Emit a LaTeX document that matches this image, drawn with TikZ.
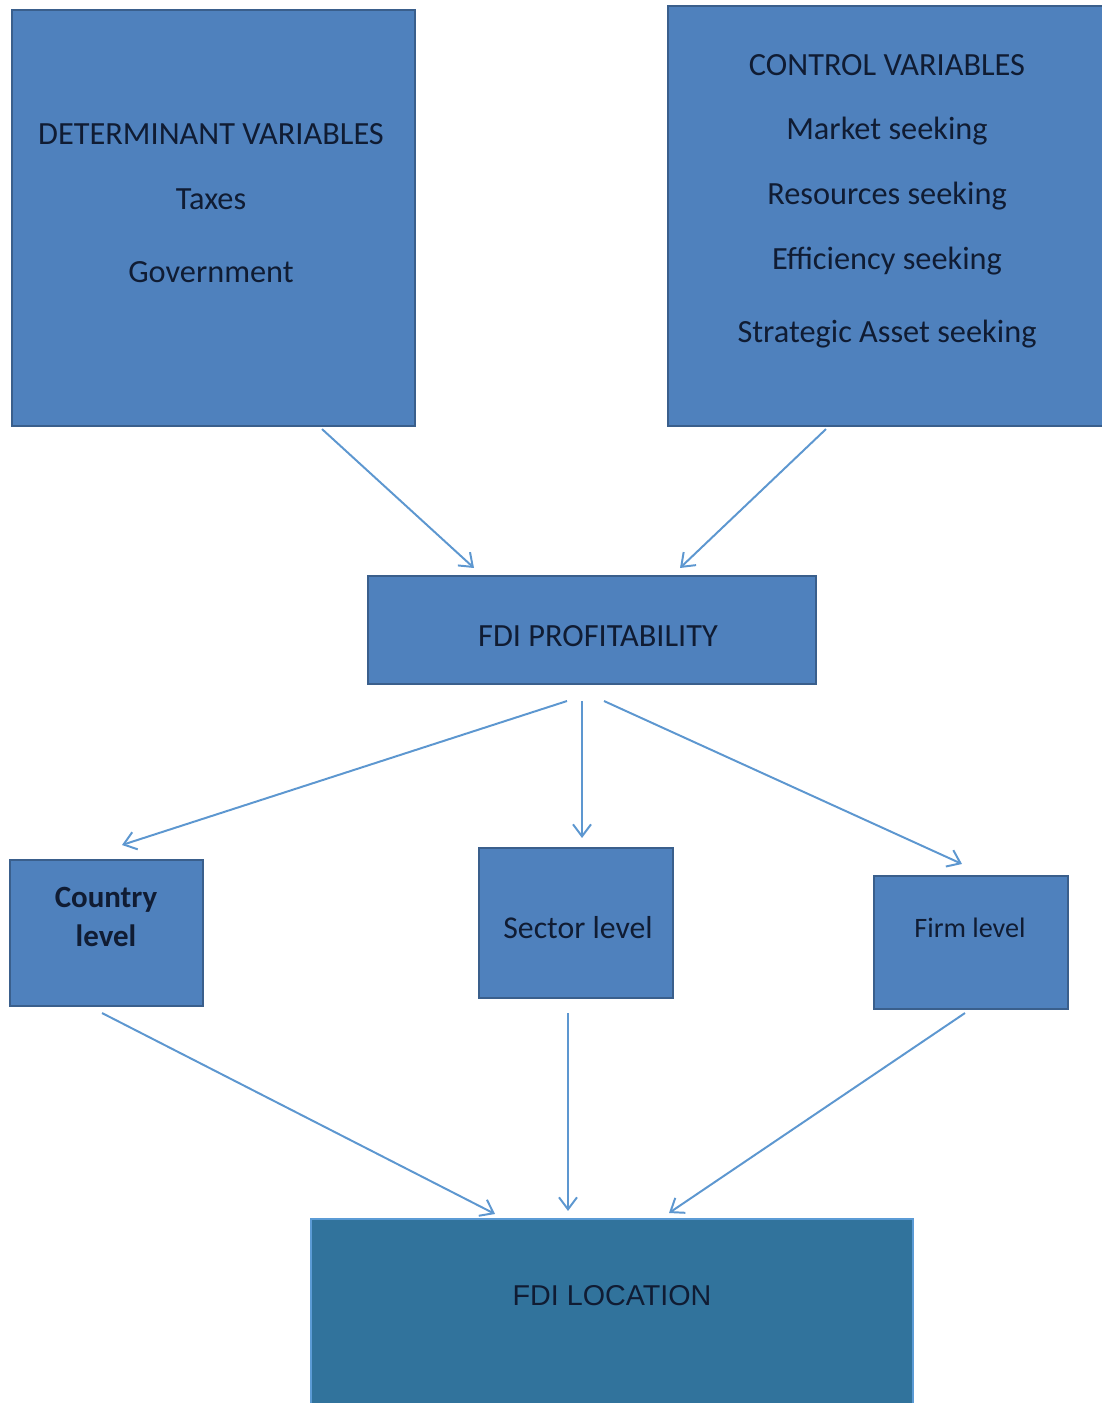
\documentclass[tikz,border=0pt]{standalone}
\usepackage{fontspec}
\setmainfont{Carlito}
\newfontfamily\locfont{Liberation Sans}
\usetikzlibrary{arrows.meta,calc}
\definecolor{boxblue}{HTML}{4F81BD}
\definecolor{boxedge}{HTML}{3A5F8C}
\definecolor{locblue}{HTML}{31739C}
\definecolor{locedge}{HTML}{5B9BD5}
\definecolor{arrowblue}{HTML}{5D97D0}
\definecolor{textnavy}{HTML}{101C33}

\begin{document}
\begin{tikzpicture}[x=0.025cm,y=-0.025cm,
    box/.style={draw=boxedge,fill=boxblue,line width=2pt,inner sep=0pt,outer sep=0pt},
    locbox/.style={draw=locedge,fill=locblue,line width=2pt,inner sep=0pt,outer sep=0pt},
    txt/.style={text=textnavy,align=center,inner sep=0pt,font=\fontsize{23}{46}\selectfont},
    conn/.style={draw=arrowblue,line width=1.4pt,-{Straight Barb[length=3mm,width=4.5mm]}}]
         \useasboundingbox (0,0) rectangle (1102,1403) ;
         \clip (0,0) rectangle (1102,1403) ;
         % top row
         \node[box,minimum width=10.075cm,minimum height=10.4cm] (det) at (213.5,218) {} ;
         \node[box,minimum width=11cm,minimum height=10.5cm] (ctrl) at (888,216) {} ;
         \node[txt] (dettxt) at (211,203) {DETERMINANT VARIABLES\\Taxes\\[6pt]Government} ;
         \node[txt] (ctrltxt) at (887,201) {CONTROL VARIABLES\\Market seeking\\Resources seeking\\Efficiency seeking\\[6pt]Strategic Asset seeking} ;
         % middle
         \node[box,minimum width=11.2cm,minimum height=2.7cm] (prof) at (592,630) {} ;
         \node[txt] (proftxt) at (598,636) {FDI PROFITABILITY} ;
         % levels
         \node[box,minimum width=4.825cm,minimum height=3.65cm] (country) at (106.5,933) {} ;
         \node[box,minimum width=4.85cm,minimum height=3.75cm] (sector) at (576,923) {} ;
         \node[box,minimum width=4.85cm,minimum height=3.325cm] (firm) at (971,942.5) {} ;
         \node[txt,font=\bfseries\fontsize{22}{28.3}\selectfont] (countrytxt) at (106,917) {Country\\level} ;
         \node[txt,font=\fontsize{22.6}{27}\selectfont] (sectortxt) at (578,928) {Sector level} ;
         \node[txt,font=\fontsize{20}{24}\selectfont] (firmtxt) at (970,928) {Firm level} ;
         % bottom
         \node[locbox,minimum width=15.05cm,minimum height=4.775cm] (loc) at (612,1314.5) {} ;
         \node[txt,font=\locfont\fontsize{20.4}{24}\selectfont] (loctxt) at (612,1296) {FDI LOCATION} ;
         % arrows
         \draw[conn] ($(det.south)+(108.5,3)$) -- ($(prof.north)+(-118,-8)$) ;
         \draw[conn] ($(ctrl.south)+(-62,3)$) -- ($(prof.north)+(88,-8)$) ;
         \draw[conn] ($(prof.south)+(-25,17)$) -- ($(country.north)+(15.5,-15)$) ;
         \draw[conn] ($(prof.south)+(-10,17)$) -- ($(sector.north)+(6,-10)$) ;
         \draw[conn] ($(prof.south)+(12,17)$) -- ($(firm.north)+(-9,-12)$) ;
         \draw[conn] ($(country.south)+(-4.5,7)$) -- ($(loc.north)+(-117,-5)$) ;
         \draw[conn] ($(sector.south)+(-8,15)$) -- ($(loc.north)+(-44,-8)$) ;
         \draw[conn] ($(firm.south)+(-6,4)$) -- ($(loc.north)+(57,-6)$) ;
       \end{tikzpicture}
\end{document}
